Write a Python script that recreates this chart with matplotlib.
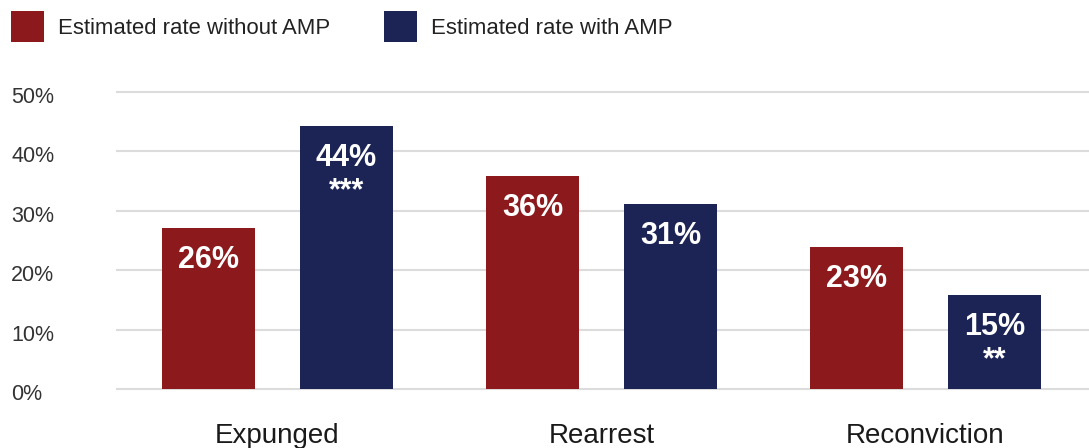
import numpy as np
import matplotlib
matplotlib.use("Agg")
import matplotlib.pyplot as plt
from matplotlib.transforms import ScaledTranslation

# data
categories = ["Expunged", "Rearrest", "Reconviction"]
without_amp = [27.1, 35.8, 23.9]
with_amp = [44.3, 31.1, 15.9]
without_labels = ["26%", "36%", "23%"]
with_labels = ["44%", "31%", "15%"]
with_stars = ["***", "", "**"]
series_names = ["Estimated rate without AMP", "Estimated rate with AMP"]
yticks = [0, 10, 20, 30, 40, 50]

red = "#8c1a1c"
blue = "#1b2454"
grey_txt = "#333333"

plt.rcParams["font.family"] = ["Liberation Sans", "DejaVu Sans"]
narrow = ["Liberation Sans Narrow", "Liberation Sans", "DejaVu Sans"]

fig = plt.figure(figsize=(10.89, 4.48), dpi=100)
W, H = 1089, 448
ax = fig.add_axes([117 / W, (H - 389.3) / H, (W - 117) / W, (389.3 - 91.7) / H])

x = np.arange(len(categories))
off = 0.213
bw = 0.287
b1 = ax.bar(x - off, without_amp, bw, color=red, zorder=2, label=series_names[0])
b2 = ax.bar(x + off, with_amp, bw, color=blue, zorder=2, label=series_names[1])

for xi, h, lab in zip(x - off, without_amp, without_labels):
    ax.annotate(lab, (xi, h), xytext=(0, -23), textcoords="offset points",
                ha="center", va="center", color="white", fontsize=22,
                fontweight="bold", family=narrow)
for xi, h, lab, st in zip(x + off, with_amp, with_labels, with_stars):
    ax.annotate(lab, (xi, h), xytext=(0, -23), textcoords="offset points",
                ha="center", va="center", color="white", fontsize=22,
                fontweight="bold", family=narrow)
    if st:
        ax.annotate(st, (xi, h), xytext=(0, -47), textcoords="offset points",
                    ha="center", va="center", color="white", fontsize=22,
                    fontweight="bold", family=narrow)

ax.set_xlim(-0.495, 2.505)
ax.set_ylim(0, 50)
ax.set_yticks(yticks)
ax.set_yticklabels([f"{t}%" for t in yticks], ha="left", fontsize=15.5, color=grey_txt)
ax.tick_params(axis="y", length=0, pad=76.3)
for lbl in ax.get_yticklabels():
    lbl.set_transform(lbl.get_transform() + ScaledTranslation(0, -3 / 100, fig.dpi_scale_trans))

ax.set_xticks(x)
ax.set_xticklabels(categories, fontsize=20, color="#1a1a1a")
ax.tick_params(axis="x", length=0, pad=24.5)

ax.yaxis.grid(True, color="#dcdcdc", linewidth=1.5, zorder=0)
ax.set_axisbelow(True)
for gl in ax.get_ygridlines():
    gl.set_clip_on(False)
for s in ax.spines.values():
    s.set_visible(False)

fig.legend(handles=[b1, b2], loc="upper left", bbox_to_anchor=(11 / W, 1 - 11 / H),
           ncol=2, frameon=False, fontsize=15.9, borderpad=0, borderaxespad=0,
           handlelength=1.5, handleheight=1.8, handletextpad=0.65,
           columnspacing=2.4, labelcolor="#222222")

fig.savefig("out.png", dpi=100)
